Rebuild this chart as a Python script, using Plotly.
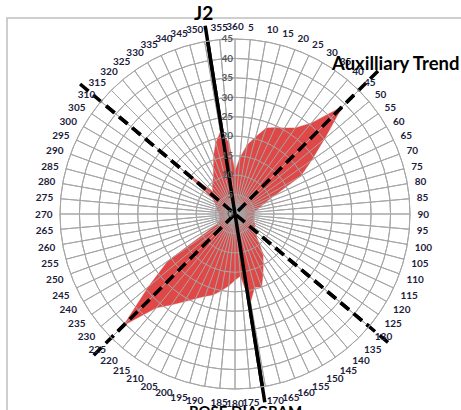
import numpy as np
import plotly.graph_objects as go

# ---------------- data ----------------
bin_angles = list(range(0, 360, 5))
bin_counts = [11, 14.5, 18, 20.5, 23.5, 24.5, 25.5, 27, 30.5, 39,      # 0-45
              30, 24, 19.5, 11, 8, 6.5, 5.5, 5, 5,                     # 50-90
              4.5, 5, 5, 5, 5.5, 6, 6, 6.5, 7.5, 9.5,                   # 95-140
              12.5, 14.5, 17, 20, 19.5, 23, 16, 17,                    # 145-180
              18.5, 20, 21.5, 22.5, 24, 26, 28.5, 31.5, 40.5,          # 185-225
              29, 21, 5.5, 4.5, 4, 4, 4, 4, 4,                         # 230-270
              4, 4.5, 5, 5, 5.5, 6, 7, 18, 8,                          # 275-315
              9, 10, 11, 13, 16, 19, 21.5, 18.5]                       # 320-355
angle_tick_vals = list(range(0, 360, 5))
angle_tick_text = ["360"] + [str(a) for a in range(5, 360, 5)]
radial_ticks = list(range(0, 50, 5))
radial_max = 45

j2_angles = [351, 171]
j2_length = 49
aux_angles = [45, 225]
second_angles = [310, 130]
trend_length = 52

# ---------------- layout geometry ----------------
W, H = 461, 410
CX, CY, RPX = 235, 214, 175          # centre and outer-circle radius in pixels
k = RPX / radial_max                  # pixels per radial unit

pol_dom_x = [(CX - RPX) / W, (CX + RPX) / W]
pol_dom_y = [1 - (CY + RPX) / H, 1 - (CY - RPX) / H]

fig = go.Figure()

# red rose (polar 1)
fig.add_trace(go.Scatterpolar(
    r=bin_counts + bin_counts[:1],
    theta=bin_angles + bin_angles[:1],
    mode="lines", fill="toself",
    fillcolor="#E04848", line=dict(color="#E04848", width=0.5),
    showlegend=False, hoverinfo="skip", subplot="polar"))

dash_pat = "11px,6px"
styles = [(aux_angles, trend_length, dash_pat),
          (second_angles, trend_length, dash_pat),
          (j2_angles, j2_length, "solid")]

# full-length trend lines on a hidden cartesian frame sharing the same scale
for angs, L, dash in styles:
    th = np.radians(angs)
    fig.add_trace(go.Scatter(
        x=[L * np.sin(th[0]), 0, L * np.sin(th[1])],
        y=[L * np.cos(th[0]), 0, L * np.cos(th[1])],
        mode="lines", line=dict(color="black", width=3.5, dash=dash),
        showlegend=False, hoverinfo="skip", xaxis="x", yaxis="y"))

# same trend lines on top polar layer (above the rose and grid)
for angs, L, dash in styles:
    fig.add_trace(go.Scatterpolar(
        r=[L, 0, L], theta=[angs[0], angs[0], angs[1]],
        mode="lines", line=dict(color="black", width=3.5, dash=dash),
        showlegend=False, hoverinfo="skip", subplot="polar2"))

grid = "#A6A6A6"
ang_common = dict(rotation=90, direction="clockwise",
                  tickmode="array", tickvals=angle_tick_vals,
                  showgrid=True, gridcolor=grid, gridwidth=1,
                  showline=True, linecolor=grid, linewidth=1)
rad_common = dict(range=[0, radial_max], angle=90,
                  tickmode="array", tickvals=radial_ticks,
                  showgrid=True, gridcolor=grid, gridwidth=1,
                  showline=False, ticks="")

fig.update_layout(
    width=W, height=H,
    margin=dict(l=0, r=0, t=0, b=0),
    paper_bgcolor="white", plot_bgcolor="rgba(0,0,0,0)",
    font=dict(family="Lato, Open Sans, sans-serif"),
    xaxis=dict(domain=[0, 1], range=[-CX / k, (W - CX) / k], visible=False, fixedrange=True),
    yaxis=dict(domain=[0, 1], range=[-(H - CY) / k, CY / k], visible=False, fixedrange=True),
    polar=dict(
        domain=dict(x=pol_dom_x, y=pol_dom_y),
        bgcolor="rgba(0,0,0,0)",
        angularaxis=dict(**ang_common, ticks="", showticklabels=False),
        radialaxis=dict(**rad_common, showticklabels=False),
    ),
    polar2=dict(
        domain=dict(x=pol_dom_x, y=pol_dom_y),
        bgcolor="rgba(0,0,0,0)",
        angularaxis=dict(**ang_common, ticktext=angle_tick_text,
                         ticks="outside", ticklen=5, tickcolor="rgba(0,0,0,0)",
                         tickfont=dict(size=10, color="#1c1c3c", family="Lato", weight="bold")),
        radialaxis=dict(**rad_common, side="counterclockwise", tickangle=90,
                        tickfont=dict(size=10, color="#595959", family="Lato", weight="bold")),
    ),
    shapes=[dict(type="rect", xref="paper", yref="paper",
                 x0=7 / W, x1=480 / W, y0=1 - 430 / H, y1=1 - 18 / H,
                 line=dict(color="#BFBFBF", width=1.5), fillcolor="rgba(0,0,0,0)",
                 layer="below")],
    annotations=[
        dict(text="<b>J2</b>", x=203 / W, y=1 - 12 / H, xref="paper", yref="paper",
             xanchor="center", yanchor="middle",
             showarrow=False, font=dict(size=19, color="black", family="Lato")),
        dict(text="<b>Auxilliary Trend</b>", x=395 / W, y=1 - 63 / H, xref="paper", yref="paper",
             xanchor="center", yanchor="middle",
             showarrow=False, font=dict(size=18.5, color="black", family="Lato")),
        dict(text="<b>ROSE DIAGRAM</b>", x=245 / W, y=1 - 400 / H, xref="paper", yref="paper",
             xanchor="center", yanchor="top",
             showarrow=False, font=dict(size=15, color="black", family="Lato")),
    ],
)

fig.write_html("out.html", config={"displayModeBar": False},
               post_script="document.body.style.margin='0';document.body.style.overflow='hidden';")
